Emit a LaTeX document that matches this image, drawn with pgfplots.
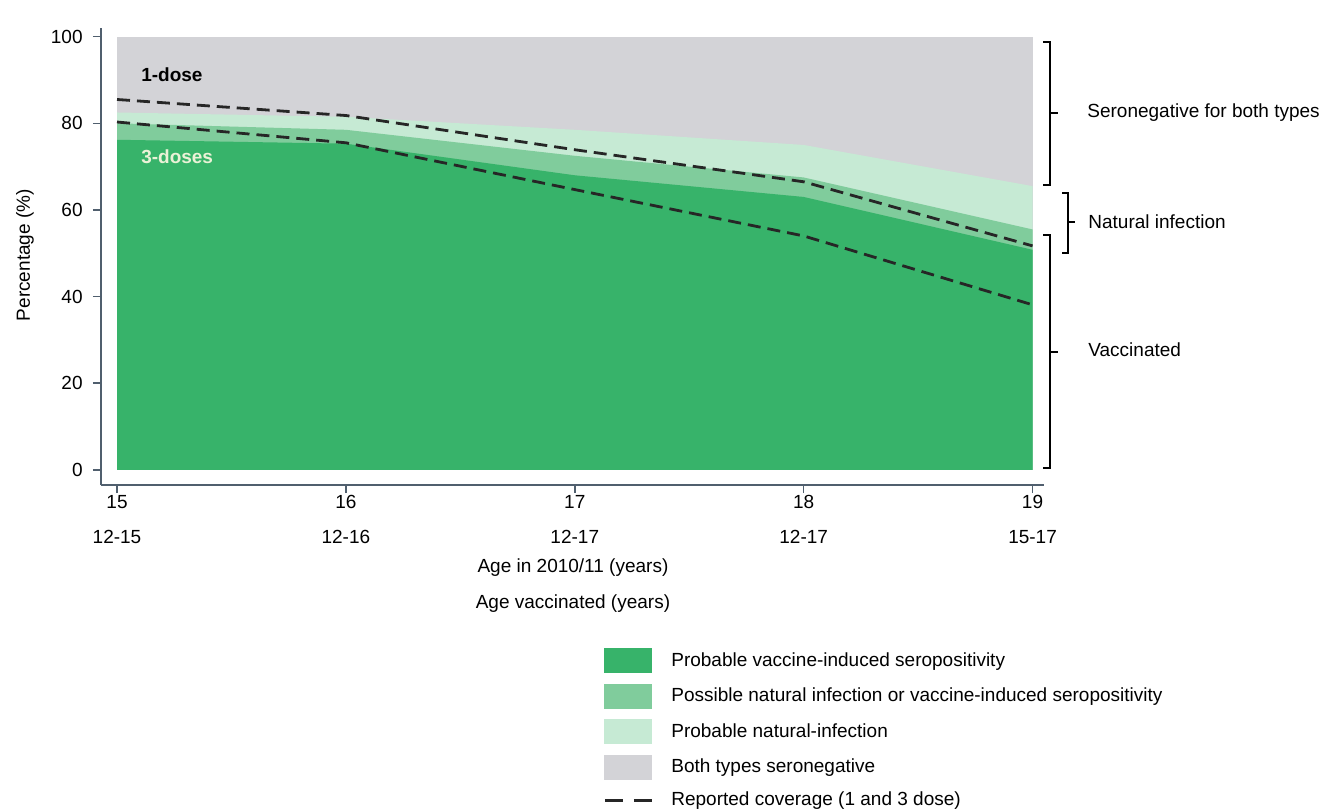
\documentclass[border=0pt]{standalone}
\usepackage{fontspec}
\setmainfont{Liberation Sans}
\usepackage{pgfplots}
\pgfplotsset{compat=1.18}
\definecolor{cdark}{RGB}{55,179,106}
\definecolor{cmed}{RGB}{128,204,156}
\definecolor{clight}{RGB}{198,234,212}
\definecolor{cgray}{RGB}{211,211,215}
\definecolor{caxis}{RGB}{80,95,110}
\definecolor{cthree}{RGB}{235,242,215}
\begin{document}
\begin{tikzpicture}[font=\fontsize{9.5}{11.4}\selectfont]
\path[use as bounding box] (-50.5pt,-163pt) rectangle (616.5pt,242.5pt);
\begin{axis}[
  at={(0pt,0pt)}, anchor=south west,
  scale only axis, width=471.5pt, height=228.5pt,
  xmin=14.93, xmax=19.05, ymin=-3.5, ymax=102,
  axis lines=left, axis line style={-, caxis, line width=0.8pt},
  xtick={15,16,17,18,19},
  xticklabels={{15\\[6pt]12-15},{16\\[6pt]12-16},{17\\[6pt]12-17},{18\\[6pt]12-17},{19\\[6pt]15-17}},
  ytick={0,20,40,60,80,100},
  tick align=outside, major tick length=4pt,
  tick style={caxis, line width=0.8pt},
  xticklabel style={align=center, inner sep=1pt},
  yticklabel style={inner sep=1.5pt, xshift=-3.5pt},
  /pgf/number format/assume math mode=true,
  clip=false,
  xlabel={Age in 2010/11 (years)\\[6.6pt]Age vaccinated (years)},
  every axis x label/.style={at={(axis description cs:0.5005,-0.221)}, anchor=center, align=center},
  ylabel={Percentage (\%)},
  every axis y label/.style={at={(axis description cs:-0.0806,0.503)}, rotate=90, anchor=center},
  legend style={draw=none, fill=none, inner sep=0pt, at={(axis description cs:0.5323,-0.3567)}, anchor=north west,
    row sep=5.3pt, column sep=8pt, nodes={inner sep=1pt}},
  legend cell align=left,
]
\addplot[fill=cgray, draw=none, forget plot] coordinates {(15,0)(15,100)(19,100)(19,0)};
\addplot[fill=clight, draw=none, forget plot] coordinates {(15,0)(15,82.5)(16,81.5)(17,78.5)(18,75)(19,65.5)(19,0)};
\addplot[fill=cmed, draw=none, forget plot] coordinates {(15,0)(15,80)(16,78.5)(17,72.5)(18,67.5)(19,55.5)(19,0)};
\addplot[fill=cdark, draw=none, forget plot] coordinates {(15,0)(15,76.2)(16,75.3)(17,68)(18,63)(19,50.8)(19,0)};
\addplot[black!85, line width=1.4pt, dash pattern=on 6.5pt off 3.5pt, forget plot] coordinates {(15,85.5)(16,81.8)(17,73.9)(18,66.5)(19,51.7)};
\addplot[black!85, line width=1.4pt, dash pattern=on 6.5pt off 3.5pt, forget plot] coordinates {(15,80.3)(16,75.5)(17,64.7)(18,54)(19,38.1)};
\node[anchor=west, font=\fontsize{9.5}{11.4}\selectfont\bfseries] at (axis cs:15.075,91.2) {1-dose};
\node[anchor=west, text=cthree, font=\fontsize{9.5}{11.4}\selectfont\bfseries] at (axis cs:15.075,72.3) {3-doses};
\addlegendimage{legend image code/.code={\fill[cdark] (0pt,-6pt) rectangle (23.5pt,6pt);}}
\addlegendentry{Probable vaccine-induced seropositivity}
\addlegendimage{legend image code/.code={\fill[cmed] (0pt,-6pt) rectangle (23.5pt,6pt);}}
\addlegendentry{Possible natural infection or vaccine-induced seropositivity}
\addlegendimage{legend image code/.code={\fill[clight] (0pt,-6pt) rectangle (23.5pt,6pt);}}
\addlegendentry{Probable natural-infection}
\addlegendimage{legend image code/.code={\fill[cgray] (0pt,-6pt) rectangle (23.5pt,6pt);}}
\addlegendentry{Both types seronegative}
\addlegendimage{legend image code/.code={\draw[black!85, line width=1.5pt, dash pattern=on 9pt off 5.5pt] (0pt,0pt) -- (23.5pt,0pt);}}
\addlegendentry{Reported coverage (1 and 3 dose)}
\end{axis}
\begin{scope}[line width=1.2pt, black, x=1pt, y=1pt]
\draw (471,221.5) -- (474.5,221.5) -- (474.5,150) -- (471,150);
\draw (474.5,186) -- (478.5,186);
\draw (480.5,146) -- (483.5,146) -- (483.5,116) -- (480.5,116);
\draw (483.5,131.5) -- (487,131.5);
\draw (471,125) -- (474.5,125) -- (474.5,8.5) -- (471,8.5);
\draw (474.5,66.5) -- (478.5,66.5);
\end{scope}
\node[anchor=west, inner sep=0pt] at (493pt,186pt) {Seronegative for both types};
\node[anchor=west, inner sep=0pt] at (493.5pt,131.5pt) {Natural infection};
\node[anchor=west, inner sep=0pt] at (493.5pt,67.5pt) {Vaccinated};
\end{tikzpicture}
\end{document}
